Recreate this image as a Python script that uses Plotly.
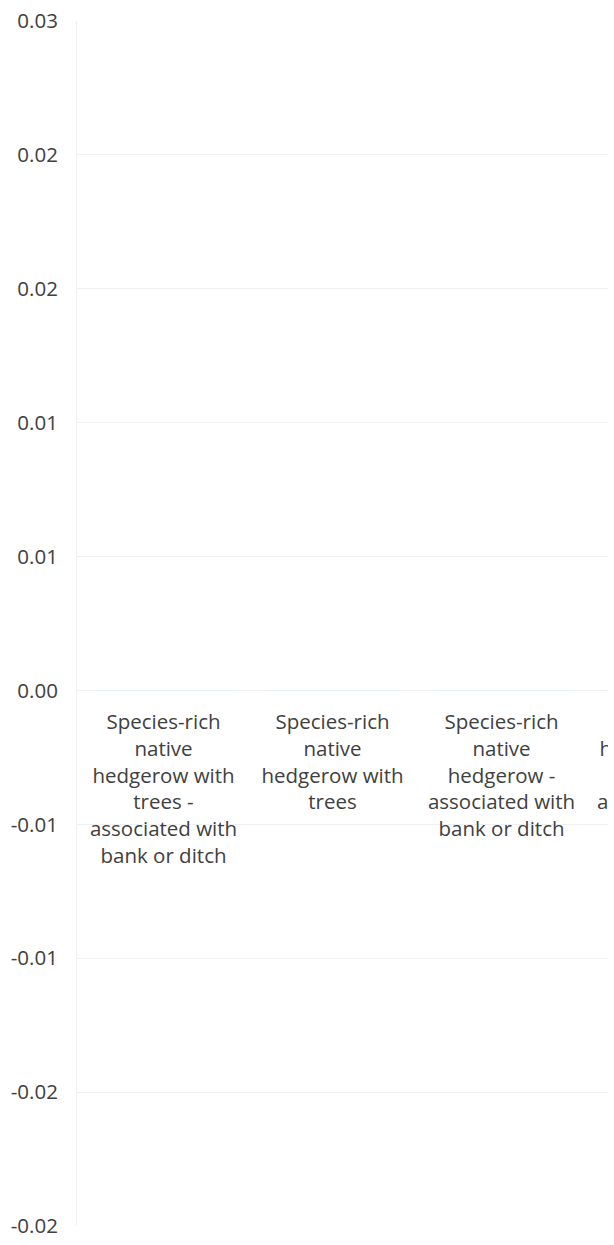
import plotly.graph_objects as go

# Data
categories = [
    "Species-rich native hedgerow with trees - associated with bank or ditch",
    "Species-rich native hedgerow with trees",
    "Species-rich native hedgerow - associated with bank or ditch",
    "Native hedgerow with trees - associated with bank or ditch",
]
tick_labels = [
    "Species-rich<br>native<br>hedgerow with<br>trees -<br>associated with<br>bank or ditch",
    "Species-rich<br>native<br>hedgerow with<br>trees",
    "Species-rich<br>native<br>hedgerow -<br>associated with<br>bank or ditch",
    "Native<br>hedgerow with<br>trees -<br>associated with<br>bank or ditch",
]
values = [0, 0, 0, 0]
y_min, y_step, n_ticks = -0.024, 0.006, 10
y_tick_text = ["-0.02", "-0.02", "-0.01", "-0.01", "0.00",
               "0.01", "0.01", "0.02", "0.02", "0.03"]

FONT = "Open Sans"
TEXT_COLOR = "#404040"
GRID = "#eef1f3"
FS = 20.5

xs = list(range(len(categories)))
y_tick_vals = [round(y_min + i * y_step, 6) for i in range(n_ticks)]
y_max = y_tick_vals[-1]

fig = go.Figure()
fig.add_trace(go.Bar(x=xs, y=values, marker_color="#4472c4", hoverinfo="skip", showlegend=False))
fig.add_trace(go.Scatter(
    x=xs, y=values, mode="markers+text", text=tick_labels,
    textposition="bottom center",
    marker=dict(size=36, opacity=0),
    textfont=dict(family=FONT, size=FS, color=TEXT_COLOR),
    hoverinfo="skip", showlegend=False, cliponaxis=True,
))

fig.update_layout(
    width=614, height=1245,
    margin=dict(l=77, r=6, t=17, b=18),
    paper_bgcolor="white", plot_bgcolor="white",
    font=dict(family=FONT, size=FS, color=TEXT_COLOR),
    xaxis=dict(range=[-0.512, 2.63], showticklabels=False, showgrid=False,
               zeroline=False, showline=False, fixedrange=True),
    yaxis=dict(range=[y_min - 1e-9, y_max + 1e-9],
               tickmode="array", tickvals=y_tick_vals, ticktext=y_tick_text,
               showgrid=True, gridcolor=GRID, gridwidth=1,
               zeroline=True, zerolinecolor=GRID, zerolinewidth=1,
               showline=True, linecolor=GRID, linewidth=1,
               ticklabelstandoff=14,
               tickfont=dict(family=FONT, size=FS, color=TEXT_COLOR)),
)

fig.write_html("out.html", config={"displayModeBar": False},
               post_script="document.body.style.margin='0';document.body.style.overflow='hidden';")
